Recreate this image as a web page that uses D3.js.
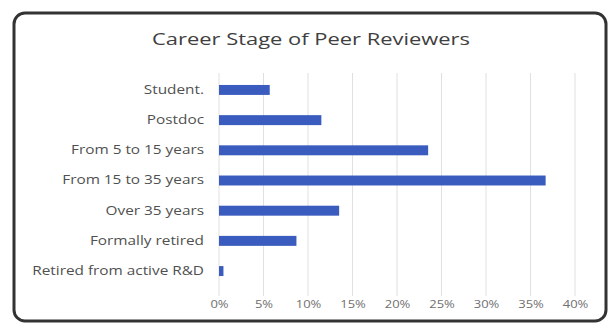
<!DOCTYPE html>
<html><head><meta charset="utf-8">
<script src="https://cdn.jsdelivr.net/npm/d3@7"></script>
<style>body{margin:0;background:#fff;}svg{display:block;}</style>
</head><body>
<script>
const categories = ["Student.", "Postdoc", "From 5 to 15 years", "From 15 to 35 years", "Over 35 years", "Formally retired", "Retired from active R&D"];
const values = [5.7, 11.5, 23.5, 36.7, 13.5, 8.7, 0.5];
const tickValues = [0, 5, 10, 15, 20, 25, 30, 35, 40];
const tickLabels = ["0%", "5%", "10%", "15%", "20%", "25%", "30%", "35%", "40%"];
const title = "Career Stage of Peer Reviewers";

const W = 611, H = 326;
const svg = d3.select("body").append("svg").attr("width", W).attr("height", H);
const font = "'Open Sans', 'Noto Sans', sans-serif";

// horizontal stretch helper (reference text is wide)
function stretch(sel, sx) {
  sel.each(function() {
    const t = d3.select(this);
    const x0 = +(t.attr("x") || 0);
    t.attr("x", x0 / sx).attr("transform", `scale(${sx},1)`);
  });
}

svg.append("rect").attr("x", 14).attr("y", 13).attr("width", 592).attr("height", 308)
  .attr("rx", 11).attr("fill", "#fff").attr("stroke", "#333").attr("stroke-width", 3);

const tt = svg.append("text").attr("x", 311).attr("y", 45).attr("text-anchor", "middle")
  .attr("font-family", font).attr("font-size", 16).attr("fill", "#404040").text(title);
stretch(tt, 1.37);

const x = d3.scaleLinear().domain([0, 40]).range([219, 575]);
const y = d3.scaleBand().domain(categories).range([75, 286]).paddingInner(0.67).paddingOuter(0.33);

// gridlines
svg.append("g").selectAll("line").data(tickValues).join("line")
  .attr("x1", d => x(d)).attr("x2", d => x(d)).attr("y1", 73).attr("y2", 296)
  .attr("stroke", "#e0e0e0").attr("stroke-width", 1);

// bars
svg.append("g").selectAll("rect").data(values).join("rect")
  .attr("x", x(0)).attr("y", (d, i) => y(categories[i]))
  .attr("width", d => x(d) - x(0)).attr("height", y.bandwidth())
  .attr("fill", "#3a5cbf");

// category axis
const yAxis = d3.axisLeft(y).tickSize(0).tickPadding(15);
const gy = svg.append("g").attr("transform", `translate(${x(0)},0)`).call(yAxis);
gy.select(".domain").remove();
gy.selectAll("text").attr("font-family", font).attr("font-size", 12).attr("fill", "#505050");
stretch(gy.selectAll("text"), 1.28);

// value axis
const xAxis = d3.axisBottom(x).tickValues(tickValues).tickFormat((d, i) => tickLabels[i]).tickSize(0).tickPadding(6);
const gx = svg.append("g").attr("transform", "translate(0,295)").call(xAxis);
gx.select(".domain").remove();
gx.selectAll("text").attr("font-family", font).attr("font-size", 10).attr("fill", "#707070");
stretch(gx.selectAll("text"), 1.3);
</script>
</body></html>
